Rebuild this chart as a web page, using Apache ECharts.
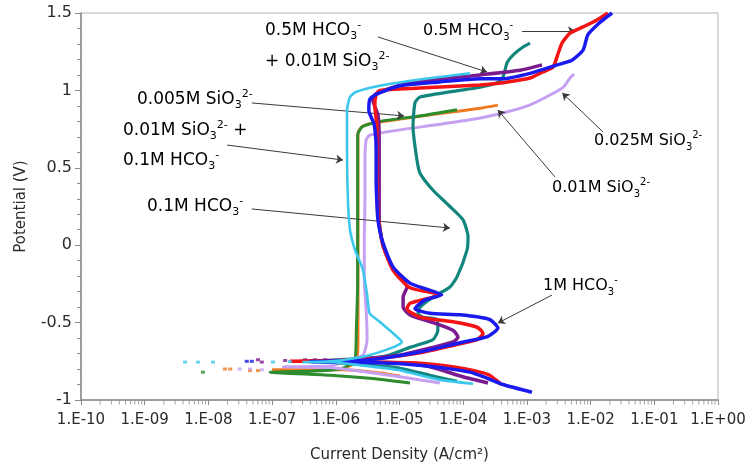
<!DOCTYPE html>
<html>
<head>
<meta charset="utf-8">
<script src="https://cdn.jsdelivr.net/npm/echarts@6/dist/echarts.min.js"></script>
<style>
  html, body { margin: 0; padding: 0; background: #ffffff; }
  #chart { width: 746px; height: 466px; }
</style>
</head>
<body>
<div id="chart"></div>
<script>
// Potentiodynamic polarization curves, points are [current density (A/cm²), potential (V)]

const hco3_1M = [
  [1.2e-3,-0.95],[4.2e-4,-0.90],[2.4e-4,-0.86],[1.28e-4,-0.82],[4.3e-5,-0.79],[1.46e-5,-0.77],
  [4.9e-6,-0.76],[1.67e-6,-0.755],[4.0e-7,-0.752],[8.1e-7,-0.748],[3.4e-6,-0.74],[2.1e-5,-0.69],
  [8.9e-5,-0.63],[2.4e-4,-0.59],[3.5e-4,-0.535],[2.6e-4,-0.48],[8.9e-5,-0.45],[3.0e-5,-0.44],
  [1.75e-5,-0.41],[2.5e-5,-0.355],[4.6e-5,-0.32],[2.5e-5,-0.28],[1.46e-5,-0.245],[7.9e-6,-0.14],
  [5.5e-6,0.015],[4.6e-6,0.16],[4.4e-6,0.29],[4.3e-6,0.42],[4.3e-6,0.615],[4.0e-6,0.78],
  [3.3e-6,0.87],[3.4e-6,0.94],[4.1e-6,0.97],[1.02e-5,1.03],[4.3e-5,1.055],[1.84e-4,1.075],
  [4.2e-4,1.075],[1.12e-3,1.11],[3.0e-3,1.165],[5.1e-3,1.195],[7.6e-3,1.26],[9.1e-3,1.36],
  [1.41e-2,1.44],[2.17e-2,1.5]
];

const hco3_05M = [
  [4.0e-4,-0.90],[2.6e-4,-0.84],[1.84e-4,-0.82],[8.0e-5,-0.79],[1.63e-5,-0.76],[4.1e-6,-0.755],
  [1.39e-6,-0.75],[1.9e-7,-0.75],[1.16e-6,-0.745],[3.7e-6,-0.735],[2.1e-5,-0.695],[7.4e-5,-0.645],
  [1.65e-4,-0.61],[2.05e-4,-0.57],[1.65e-4,-0.53],[6.9e-5,-0.495],[2.1e-5,-0.465],[1.31e-5,-0.41],
  [1.46e-5,-0.375],[4.3e-5,-0.32],[1.46e-5,-0.275],[7.9e-6,-0.16],[5.5e-6,0.0],[4.6e-6,0.195],
  [4.4e-6,0.42],[4.4e-6,0.615],[4.4e-6,0.765],[4.1e-6,0.905],[4.3e-6,0.97],[4.9e-6,1.0],
  [2.1e-5,1.015],[1.84e-4,1.035],[4.2e-4,1.05],[1.12e-3,1.08],[1.79e-3,1.12],[2.57e-3,1.15],
  [3.1e-3,1.24],[3.6e-3,1.31],[4.75e-3,1.37],[7.6e-3,1.41],[1.26e-2,1.455],[1.87e-2,1.5]
];

const hco3_05M_sio3_001M = [
  [2.45e-4,-0.89],[9.9e-5,-0.85],[3.0e-5,-0.785],[1.02e-5,-0.76],[3.4e-6,-0.755],[1.16e-6,-0.75],
  [3.0e-7,-0.75],[9.7e-7,-0.745],[3.4e-6,-0.73],[1.02e-5,-0.71],[3.36e-5,-0.66],[6.9e-5,-0.625],
  [8.3e-5,-0.595],[6.9e-5,-0.55],[3.36e-5,-0.50],[1.46e-5,-0.45],[1.14e-5,-0.40],[1.14e-5,-0.335],
  [1.31e-5,-0.27],[7.9e-6,-0.15],[5.5e-6,0.0],[4.8e-6,0.16],[4.8e-6,0.42],[4.8e-6,0.68],
  [4.6e-6,0.84],[3.8e-6,0.94],[4.3e-6,0.98],[1.46e-5,1.05],[1.84e-4,1.10],[7.8e-4,1.13],[1.73e-3,1.165]
];

const hco3_01M = [
  [8.0e-5,-0.88],[3.0e-5,-0.84],[9.1e-6,-0.79],[2.4e-6,-0.77],[8.1e-7,-0.755],[2.7e-7,-0.75],
  [1.16e-6,-0.74],[5.5e-6,-0.72],[1.46e-5,-0.66],[3.36e-5,-0.61],[4.0e-5,-0.55],[3.9e-5,-0.48],
  [2.34e-5,-0.465],[1.95e-5,-0.44],[2.1e-5,-0.40],[3.36e-5,-0.335],[6.2e-5,-0.27],[8.0e-5,-0.205],
  [1.15e-4,-0.03],[1.19e-4,0.055],[9.9e-5,0.165],[6.2e-5,0.25],[3.36e-5,0.355],[2.1e-5,0.465],
  [1.88e-5,0.55],[1.63e-5,0.765],[1.75e-5,0.92],[2.1e-5,0.957],[6.2e-5,0.99],[1.84e-4,1.02],
  [3.4e-4,1.05],[4.2e-4,1.085],[4.9e-4,1.18],[6.1e-4,1.23],[8.7e-4,1.28],[1.12e-3,1.305]
];

const sio3_001M_hco3_01M = [
  [1.43e-4,-0.895],[4.3e-5,-0.87],[9.1e-6,-0.805],[2.4e-6,-0.775],[8.1e-7,-0.755],[3.0e-7,-0.755],
  [8.1e-7,-0.75],[2.67e-6,-0.72],[7.9e-6,-0.66],[1.09e-5,-0.625],[8.5e-6,-0.58],[4.9e-6,-0.495],
  [3.4e-6,-0.44],[3.1e-6,-0.32],[2.67e-6,-0.16],[2.0e-6,-0.03],[1.67e-6,0.10],[1.55e-6,0.29],
  [1.5e-6,0.615],[1.5e-6,0.87],[1.67e-6,0.957],[2.07e-6,0.99],[4.9e-6,1.03],[2.1e-5,1.07],
  [6.2e-5,1.095],[1.28e-4,1.11]
];

const sio3_001M = [
  [1.02e-5,-0.845],[4.9e-6,-0.825],[1.39e-6,-0.805],[1.0e-7,-0.805],[1.16e-6,-0.80],[2.07e-6,-0.755],
  [2.23e-6,-0.61],[2.23e-6,-0.355],[2.23e-6,-0.03],[2.23e-6,0.29],[2.23e-6,0.615],[2.23e-6,0.725],
  [2.58e-6,0.765],[3.4e-6,0.785],[1.02e-5,0.815],[4.3e-5,0.85],[1.84e-4,0.885],[3.5e-4,0.905]
];

const sio3_0025M = [
  [4.3e-5,-0.89],[1.02e-5,-0.85],[1.67e-6,-0.805],[8.1e-7,-0.79],[1.5e-7,-0.785],[8.1e-7,-0.78],
  [1.67e-6,-0.74],[2.67e-6,-0.71],[3.1e-6,-0.61],[3.0e-6,-0.42],[2.8e-6,-0.225],[2.8e-6,0.035],
  [2.87e-6,0.29],[2.87e-6,0.55],[3.0e-6,0.68],[3.4e-6,0.71],[1.02e-5,0.745],[3.5e-5,0.776],
  [1.28e-4,0.81],[4.2e-4,0.854],[1.12e-3,0.906],[2.3e-3,0.97],[3.7e-3,1.02],[4.75e-3,1.08],[5.5e-3,1.106]
];

const sio3_0005M = [
  [1.46e-5,-0.89],[3.4e-6,-0.86],[8.1e-7,-0.84],[9.3e-8,-0.82],[3.0e-7,-0.815],[1.16e-6,-0.80],
  [2.0e-6,-0.74],[2.1e-6,-0.55],[2.2e-6,-0.245],[2.2e-6,0.2],[2.2e-6,0.71],[2.6e-6,0.765],
  [4.9e-6,0.80],[2.1e-5,0.835],[8.0e-5,0.875]
];

// Isolated readings near the corrosion potential
const hco3_1M_corr = [[4.0e-8,-0.75],[4.8e-8,-0.75]];
const hco3_05M_sio3_001M_corr = [[6.0e-8,-0.74],[6.9e-8,-0.755],[1.6e-7,-0.745],[3.3e-7,-0.74],[4.7e-7,-0.74],[6.8e-7,-0.74]];
const sio3_001M_hco3_01M_corr = [[4.3e-9,-0.755],[6.9e-9,-0.755],[1.18e-8,-0.755],[1.03e-7,-0.755],[1.9e-7,-0.752]];
const sio3_001M_corr = [[1.82e-8,-0.80],[2.2e-8,-0.80],[4.5e-8,-0.81],[6.0e-8,-0.81]];
const sio3_0025M_corr = [[3.1e-8,-0.80],[4.5e-8,-0.80],[6.9e-8,-0.805]];
const sio3_0005M_corr = [[8.2e-9,-0.82]];

// Axis ranges and ticks
const currentMin = 1e-10, currentMax = 1;
const potentialMin = -1, potentialMax = 1.5, potentialStep = 0.5;
const decadeExponents = [-10,-9,-8,-7,-6,-5,-4,-3,-2,-1];
const minorTickMultipliers = [2,3,4,5,6,7,8,9];

const FONT = 'DejaVu Sans';
const TEXT = '#2b2b2b';
const AXIS = '#8a8a8a';

const curves = [
  { name: '0.01M SiO3', data: sio3_001M, corr: sio3_001M_corr, color: '#f07a22', width: 3 },
  { name: '0.005M SiO3', data: sio3_0005M, corr: sio3_0005M_corr, color: '#2e8b2e', width: 3 },
  { name: '0.025M SiO3', data: sio3_0025M, corr: sio3_0025M_corr, color: '#c6a0f2', width: 3 },
  { name: '0.1M HCO3', data: hco3_01M, corr: [], color: '#12857d', width: 3.2 },
  { name: '0.5M HCO3 + 0.01M SiO3', data: hco3_05M_sio3_001M, corr: hco3_05M_sio3_001M_corr, color: '#7b1b8f', width: 3.5 },
  { name: '0.5M HCO3', data: hco3_05M, corr: [], color: '#f51414', width: 3.5 },
  { name: '1M HCO3', data: hco3_1M, corr: hco3_1M_corr, color: '#1a1aee', width: 3.5 },
  { name: '0.01M SiO3 + 0.1M HCO3', data: sio3_001M_hco3_01M, corr: sio3_001M_hco3_01M_corr, color: '#3cc8ec', width: 2.6 }
];

// Annotation arrows: [tail, head] in data coordinates
const arrows = [
  [[4.6e-6, 1.345], [2.37e-4, 1.119]],
  [[8.4e-4, 1.384], [5.7e-3, 1.384]],
  [[4.8e-8, 0.919], [1.18e-5, 0.835]],
  [[1.96e-8, 0.647], [1.30e-6, 0.550]],
  [[4.8e-8, 0.234], [6.2e-5, 0.111]],
  [[1.57e-2, 0.731], [3.6e-3, 0.983]],
  [[2.76e-3, 0.441], [3.5e-4, 0.873]],
  [[2.48e-3, -0.322], [3.5e-4, -0.503]]
];

function richSet(size) {
  return {
    b: { fontFamily: FONT, fontSize: size, color: TEXT, lineHeight: 22 },
    sub: { fontFamily: FONT, fontSize: Math.round(size * 0.62), color: TEXT, verticalAlign: 'bottom' },
    sup: { fontFamily: FONT, fontSize: Math.round(size * 0.62), color: TEXT, verticalAlign: 'top' }
  };
}

const labels = [
  { x: 265, y: 31, size: 17, text: '{b|0.5M HCO}{sub|3}{sup|-}' },
  { x: 265, y: 62, size: 17, text: '{b|+ 0.01M SiO}{sub|3}{sup|2-}' },
  { x: 423, y: 31, size: 16, text: '{b|0.5M HCO}{sub|3}{sup|-}' },
  { x: 137, y: 100, size: 17, text: '{b|0.005M SiO}{sub|3}{sup|2-}' },
  { x: 123, y: 131, size: 17, text: '{b|0.01M SiO}{sub|3}{sup|2-}{b| +}' },
  { x: 123, y: 161, size: 17, text: '{b|0.1M HCO}{sub|3}{sup|-}' },
  { x: 147, y: 207, size: 17, text: '{b|0.1M HCO}{sub|3}{sup|-}' },
  { x: 594, y: 141, size: 16, text: '{b|0.025M SiO}{sub|3}{sup|2-}' },
  { x: 552, y: 188, size: 16, text: '{b|0.01M SiO}{sub|3}{sup|2-}' },
  { x: 543, y: 286, size: 16, text: '{b|1M HCO}{sub|3}{sup|-}' }
];

const minorTicks = [];
decadeExponents.forEach(e => minorTickMultipliers.forEach(m => minorTicks.push([m * Math.pow(10, e), potentialMin])));

const series = [];
curves.forEach((c, i) => {
  series.push({
    type: 'line', name: c.name, data: c.data, showSymbol: false, smooth: 0.2,
    lineStyle: { color: c.color, width: c.width }, itemStyle: { color: c.color },
    z: 2 + i, silent: true
  });
  if (c.corr.length) {
    series.push({
      type: 'scatter', data: c.corr, symbol: 'rect', symbolSize: [4, 3],
      itemStyle: { color: c.color }, z: 2 + i, silent: true
    });
  }
});

series.push({
  type: 'line', data: [], silent: true, z: 20,
  markLine: {
    silent: true, symbol: ['none', 'arrow'], symbolSize: 7, animation: false,
    label: { show: false },
    lineStyle: { color: '#3a3a3a', width: 1, type: 'solid' },
    emphasis: { disabled: true },
    data: arrows.map(a => [{ coord: a[0] }, { coord: a[1] }])
  }
});

// Logarithmic minor ticks (2..9 in each decade) hanging below the current-density axis
series.push({
  type: 'scatter', data: minorTicks, silent: true, clip: false, z: 30,
  symbol: 'rect', symbolSize: [1, 4], symbolOffset: [0, 2.5],
  itemStyle: { color: AXIS }
});

const chart = echarts.init(document.getElementById('chart'), null, { renderer: 'canvas' });
chart.setOption({
  animation: false,
  backgroundColor: '#ffffff',
  grid: {
    left: 81, right: 28, top: 13, bottom: 66, containLabel: false, outerBoundsMode: 'none',
    show: true, borderColor: '#b4b4b4', borderWidth: 1, backgroundColor: 'transparent'
  },
  xAxis: {
    type: 'log', logBase: 10, min: currentMin, max: currentMax, interval: 1, splitNumber: 10,
    name: 'Current Density (A/cm²)', nameLocation: 'middle', nameGap: 48,
    nameTextStyle: { fontFamily: FONT, fontSize: 15, color: TEXT },
    axisLine: { show: true, onZero: false, lineStyle: { color: AXIS, width: 1.5 } },
    axisTick: { show: true, length: 5, lineStyle: { color: AXIS } },
    splitLine: { show: false },
    axisLabel: {
      fontFamily: FONT, fontSize: 15, color: TEXT, margin: 13,
      formatter: v => {
        const e = Math.round(Math.log10(v));
        return '1.E' + (e < 0 ? '-' : '+') + String(Math.abs(e)).padStart(2, '0');
      }
    }
  },
  yAxis: {
    type: 'value', min: potentialMin, max: potentialMax, interval: potentialStep,
    name: 'Potential (V)', nameLocation: 'middle', nameGap: 52, nameRotate: 90,
    nameTextStyle: { fontFamily: FONT, fontSize: 15, color: TEXT },
    axisLine: { show: true, onZero: false, lineStyle: { color: AXIS, width: 1.5 } },
    axisTick: { show: true, length: 6, lineStyle: { color: AXIS } },
    minorTick: { show: true, splitNumber: 5, length: 4, lineStyle: { color: AXIS } },
    splitLine: { show: false },
    axisLabel: { fontFamily: FONT, fontSize: 16, color: TEXT, margin: 9 }
  },
  graphic: labels.map(l => ({
    type: 'text', x: l.x, y: l.y, silent: true, z: 50,
    style: { text: l.text, rich: richSet(l.size), align: 'left', verticalAlign: 'middle' }
  })),
  series: series
});
</script>
</body>
</html>
